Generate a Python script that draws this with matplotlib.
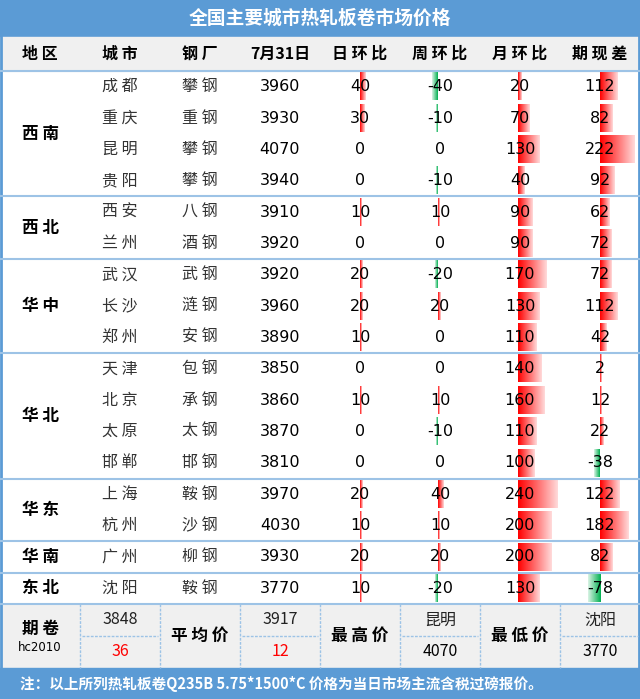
import matplotlib
matplotlib.use("Agg")
import matplotlib.pyplot as plt
import numpy as np
from matplotlib.patches import Rectangle

regions = ["西南", "西北", "华中", "华北", "华东", "华南", "东北"]
region_sizes = [4, 2, 3, 4, 2, 1, 1]
cities = ["成都", "重庆", "昆明", "贵阳", "西安", "兰州", "武汉", "长沙", "郑州",
          "天津", "北京", "太原", "邯郸", "上海", "杭州", "广州", "沈阳"]
mills = ["攀钢", "重钢", "攀钢", "攀钢", "八钢", "酒钢", "武钢", "涟钢", "安钢",
         "包钢", "承钢", "太钢", "邯钢", "鞍钢", "沙钢", "柳钢", "鞍钢"]
prices = [3960, 3930, 4070, 3940, 3910, 3920, 3920, 3960, 3890,
          3850, 3860, 3870, 3810, 3970, 4030, 3930, 3770]
day_chg = [40, 30, 0, 0, 10, 0, 20, 20, 10, 0, 10, 0, 0, 20, 10, 20, 10]
week_chg = [-40, -10, 0, -10, 10, 0, -20, 20, 0, 0, 10, -10, 0, 40, 10, 20, -20]
month_chg = [20, 70, 130, 40, 90, 90, 170, 130, 110, 140, 160, 110, 100, 240, 200, 200, 130]
basis = [112, 82, 222, 92, 62, 72, 72, 112, 42, 2, 12, 22, -38, 122, 182, 82, -78]
headers = ["地区", "城市", "钢厂", "7月31日", "日环比", "周环比", "月环比", "期现差"]
title = "全国主要城市热轧板卷市场价格"
futures = ["3848", "36"]
avg = ["3917", "12"]
high = ["昆明", "4070"]
low = ["沈阳", "3770"]
note = "注：以上所列热轧板卷Q235B 5.75*1500*C 价格为当日市场主流含税过磅报价。"

def sp(s):
    return " ".join(s)

W, H = 640, 699
fig = plt.figure(figsize=(6.4, 6.99), dpi=100)
ax = fig.add_axes([0, 0, 1, 1])
ax.set_xlim(0, W); ax.set_ylim(H, 0); ax.axis("off")
CJK = "Noto Sans CJK SC"
blue = "#5b9bd5"; lblue = "#9dc3e6"; gray = "#f0f0f0"

ax.add_patch(Rectangle((0, 0), W, 37, color=blue))
ax.text(W/2, 18, title, color="white", fontsize=13.5, fontweight="bold", family=CJK, ha="center", va="center")
ax.add_patch(Rectangle((0, 37), W, 34, color=gray))
colw = 80
for k, h in enumerate(headers):
    ax.text(40 + colw*k, 54, sp(h) if k != 3 else h, fontsize=11.5, fontweight="bold", family=CJK, ha="center", va="center")
ax.plot([0, W], [71, 71], color=lblue, lw=1.5)

y0 = 71; rh = 31.35
def bar(x0, w, yc, color):
    if w == 0:
        return
    rgb = np.array(matplotlib.colors.to_rgb(color))
    n = 50
    t = np.linspace(0, 1, n)
    if w < 0:
        t = t[::-1]
    img = np.ones((1, n, 4)); img[0, :, :3] = rgb; img[0, :, 3] = 1 - 0.85*t
    x1, x2 = sorted([x0, x0 + w])
    ax.imshow(img, extent=[x1, x2, yc + rh/2 - 2, yc - rh/2 + 2], aspect="auto", zorder=1, interpolation="bilinear")

scales = [(4, day_chg, 6/40, 360), (5, week_chg, 6/40, 438), (6, month_chg, 40/240, 518), (7, basis, 35/222, 600)]
for i in range(len(cities)):
    yc = y0 + rh*(i + 0.5)
    ax.text(120, yc, sp(cities[i]), fontsize=11.5, family=CJK, color="#333", ha="center", va="center")
    ax.text(200, yc, sp(mills[i]), fontsize=11.5, family=CJK, color="#333", ha="center", va="center")
    ax.text(280, yc, str(prices[i]), fontsize=11.5, family="DejaVu Sans", ha="center", va="center", zorder=3)
    for k, vals, sc, x0 in scales:
        v = vals[i]
        w = v*sc
        if v != 0 and abs(w) < 2:
            w = 2 if v > 0 else -2
        bar(x0, w, yc, "#ff0000" if v > 0 else "#00b050")
        ax.text(40 + colw*k, yc, str(v), fontsize=11.5, family="DejaVu Sans", ha="center", va="center", zorder=3)

r = 0
for reg, n in zip(regions, region_sizes):
    ax.text(40, y0 + rh*(r + n/2), sp(reg), fontsize=12, fontweight="bold", family=CJK, ha="center", va="center")
    r += n
    ax.plot([0, W], [y0 + rh*r]*2, color=lblue, lw=1.5)

ys = y0 + rh*17; ye = 668
ax.add_patch(Rectangle((0, ys), W, ye - ys, color=gray))
ym = (ys + ye)/2
for k in range(1, 8):
    ax.plot([80*k]*2, [ys, ye], color=lblue, lw=1, ls=(0, (2, 1)))
for c in [1, 3, 5, 7]:
    ax.plot([80*c + 2, 80*c + 78], [ym]*2, color=lblue, lw=1, ls=(0, (2, 1)))
ax.text(40, ym - 7, sp("期卷"), fontsize=12, fontweight="bold", family=CJK, ha="center", va="center")
ax.text(40, ym + 12, "hc2010", fontsize=8.5, family="DejaVu Sans", ha="center", va="center")
for c, lab in zip([2, 4, 6], ["平均价", "最高价", "最低价"]):
    ax.text(80*c + 40, ym, sp(lab), fontsize=12, fontweight="bold", family=CJK, ha="center", va="center")
t1, t2 = (ys + ym)/2, (ym + ye)/2
for c, vals, col2 in [(1, futures, "red"), (3, avg, "red"), (5, high, "black"), (7, low, "black")]:
    ax.text(80*c + 40, t1, vals[0], fontsize=11.5, family=CJK, ha="center", va="center", color="#222")
    ax.text(80*c + 40, t2, vals[1], fontsize=11.5, family=CJK, ha="center", va="center", color=col2)
ax.add_patch(Rectangle((0, ye), W, H - ye, color=blue))
ax.text(20, (ye + H)/2, note, color="white", fontsize=10.5, fontweight="bold", family=CJK, ha="left", va="center")
ax.add_patch(Rectangle((1, 1), W - 2, H - 2, fill=False, ec=blue, lw=2))
fig.savefig("out.png", dpi=100)
